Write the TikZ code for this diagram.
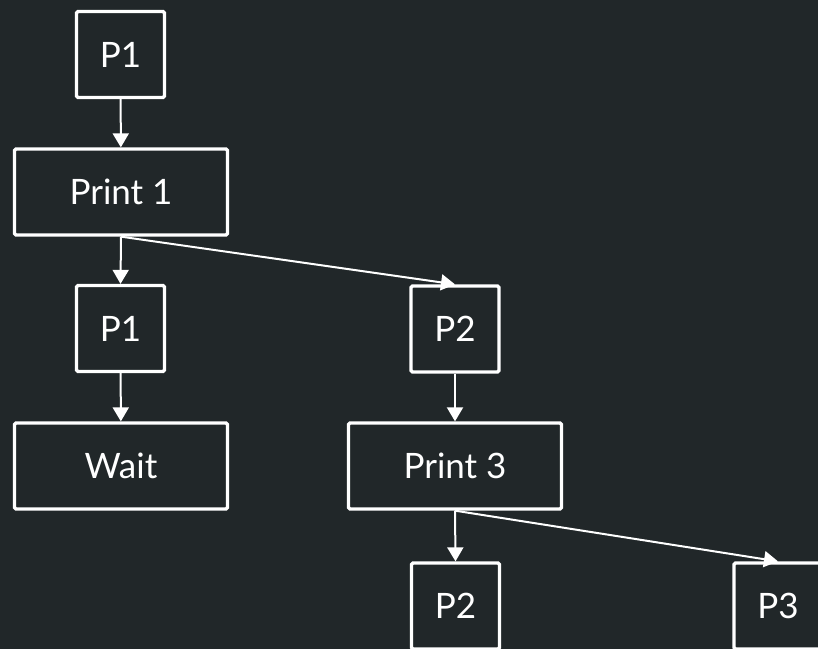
\documentclass[tikz,border=0pt]{standalone}
\usepackage{fontspec}
\setmainfont{Lato}
\usetikzlibrary{arrows.meta}

\definecolor{bgcol}{RGB}{33,39,41}

\tikzset{
    box/.style={draw=white, line width=3.3pt, rounded corners=1.5pt, text=white,
        font=\fontsize{35}{40}\selectfont, minimum width=88pt, minimum height=86pt,
        inner sep=0pt},
    wide/.style={box, minimum width=213pt},
    link/.style={draw=white, line width=2pt, -{Triangle[width=16pt,length=14pt]}}
}

\begin{document}
\begin{tikzpicture}[x=1pt, y=-1pt]
        \fill[bgcol] (0,0) rectangle (818,649);
        \useasboundingbox (0,0) rectangle (818,649);
        \begin{scope}
        \clip (0,0) rectangle (818,649);
        \node[box]  (p1top)  at (120.5,54.5)  {P1};
        \node[wide] (print1) at (121,192)     {Print 1};
        \node[box]  (p1)     at (120.5,328.5) {P1};
        \node[box]  (p2)     at (455,329)     {P2};
        \node[wide] (wait)   at (121,466)     {Wait};
        \node[wide] (print3) at (455,466)     {Print 3};
        \node[box]  (p2b)    at (455.5,606)   {P2};
        \node[box]  (p3)     at (778,606)     {P3};

        \draw[link] (p1top) -- (print1);
        \draw[link] (print1.south) -- (p1.north);
        \draw[link] (print1.south) -- (p2.north);
        \draw[link] (p1) -- (wait);
        \draw[link] (p2) -- (print3);
        \draw[link] (print3.south) -- (p2b.north);
        \draw[link] (print3.south) -- (p3.north);
        \end{scope}
\end{tikzpicture}
\end{document}
